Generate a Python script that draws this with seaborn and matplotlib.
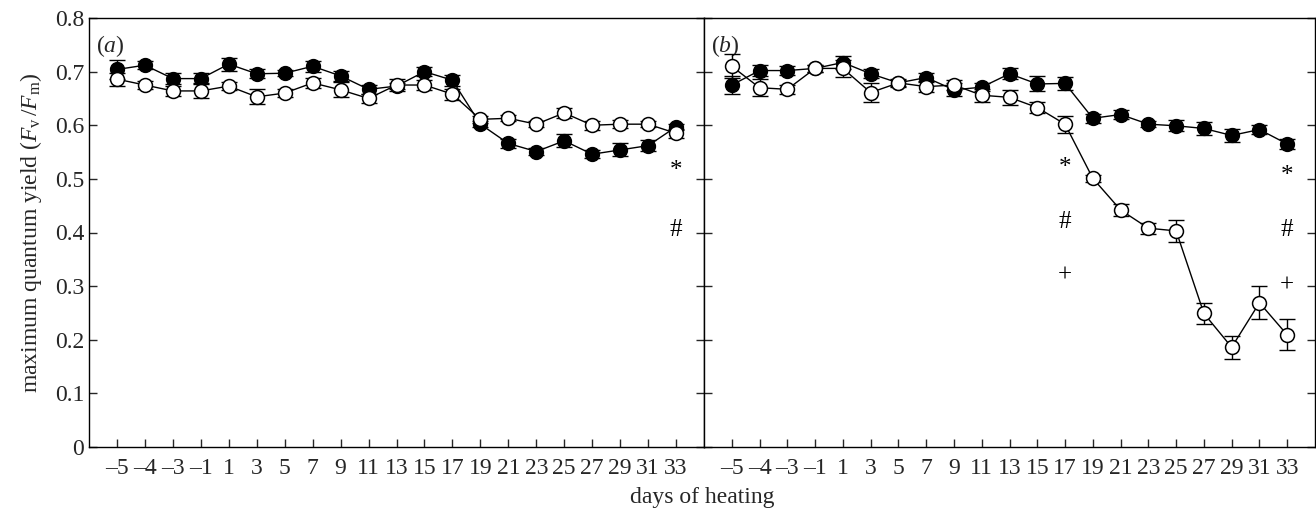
import numpy as np
import pandas as pd
import matplotlib
matplotlib.use("Agg")
import matplotlib.pyplot as plt
import seaborn as sns

# ---- data ----
days = ["–5", "–4", "–3", "–1", "1", "3", "5", "7", "9", "11", "13", "15", "17",
        "19", "21", "23", "25", "27", "29", "31", "33"]

a_filled = [0.704, 0.712, 0.687, 0.687, 0.714, 0.696, 0.697, 0.710, 0.692, 0.667, 0.673,
            0.700, 0.684, 0.602, 0.566, 0.551, 0.571, 0.546, 0.554, 0.562, 0.597]
a_filled_err = [0.018, 0.008, 0.010, 0.010, 0.012, 0.008, 0.006, 0.010, 0.010, 0.008, 0.006,
                0.008, 0.010, 0.006, 0.008, 0.006, 0.012, 0.008, 0.012, 0.010, 0.006]
a_open = [0.686, 0.675, 0.664, 0.664, 0.673, 0.653, 0.660, 0.679, 0.666, 0.650, 0.675,
          0.675, 0.658, 0.611, 0.613, 0.602, 0.623, 0.600, 0.602, 0.602, 0.585]
a_open_err = [0.012, 0.008, 0.010, 0.014, 0.008, 0.014, 0.008, 0.010, 0.014, 0.008, 0.012,
              0.010, 0.010, 0.006, 0.006, 0.006, 0.010, 0.008, 0.008, 0.006, 0.008]

b_filled = [0.675, 0.702, 0.702, 0.706, 0.717, 0.696, 0.679, 0.689, 0.666, 0.671, 0.696,
            0.677, 0.678, 0.613, 0.620, 0.602, 0.599, 0.594, 0.581, 0.592, 0.565]
b_filled_err = [0.016, 0.010, 0.008, 0.006, 0.012, 0.008, 0.006, 0.008, 0.012, 0.008, 0.010,
                0.014, 0.012, 0.008, 0.008, 0.006, 0.010, 0.012, 0.012, 0.008, 0.010]
b_open = [0.710, 0.670, 0.667, 0.706, 0.706, 0.661, 0.679, 0.672, 0.675, 0.656, 0.652,
          0.633, 0.602, 0.501, 0.442, 0.408, 0.403, 0.249, 0.186, 0.269, 0.209]
b_open_err = [0.022, 0.016, 0.008, 0.006, 0.016, 0.018, 0.008, 0.010, 0.010, 0.012, 0.014,
              0.010, 0.016, 0.006, 0.012, 0.010, 0.020, 0.020, 0.021, 0.031, 0.029]

# significance marks: (day, value, symbol)
a_marks = [("33", 0.515, "*"), ("33", 0.405, "#")]
b_marks = [("17", 0.520, "*"), ("17", 0.420, "#"), ("17", 0.320, "+"),
           ("33", 0.505, "*"), ("33", 0.405, "#"), ("33", 0.302, "+")]

yticks = [0, 0.1, 0.2, 0.3, 0.4, 0.5, 0.6, 0.7, 0.8]
ytick_labels = ["0", "0.1", "0.2", "0.3", "0.4", "0.5", "0.6", "0.7", "0.8"]

# ---- style ----
sns.set_theme(style="ticks")
plt.rcParams["font.family"] = ["Liberation Serif", "DejaVu Serif"]
plt.rcParams["mathtext.fontset"] = "custom"
plt.rcParams["mathtext.rm"] = "Liberation Serif"
plt.rcParams["mathtext.it"] = "Liberation Serif:italic"
plt.rcParams["axes.edgecolor"] = "black"
plt.rcParams["axes.linewidth"] = 1.0
FS = 17

fig = plt.figure(figsize=(13.16, 5.15), dpi=100)
bottom = 1 - 447 / 515
height = (447 - 18) / 515
ax_a = fig.add_axes([89 / 1316, bottom, (704 - 89) / 1316, height])
ax_b = fig.add_axes([704 / 1316, bottom, (1315 - 704) / 1316, height])

idx = np.arange(len(days))


def draw(ax, filled, ferr, opened, oerr, marks, label):
    df = pd.DataFrame({"i": idx, "filled": filled, "open": opened})
    ax.errorbar(idx, filled, yerr=ferr, fmt="none", ecolor="black", elinewidth=1.0,
                capsize=6, capthick=1.0, zorder=2)
    sns.lineplot(data=df, x="i", y="filled", ax=ax, color="black", linewidth=1.0,
                 marker="o", markersize=10, markerfacecolor="black",
                 markeredgecolor="black", markeredgewidth=1.0, zorder=3)
    ax.errorbar(idx, opened, yerr=oerr, fmt="none", ecolor="black", elinewidth=1.0,
                capsize=6, capthick=1.0, zorder=4)
    sns.lineplot(data=df, x="i", y="open", ax=ax, color="black", linewidth=1.0,
                 marker="o", markersize=10, markerfacecolor="white",
                 markeredgecolor="black", markeredgewidth=1.1, zorder=5)
    for d, v, s in marks:
        ax.text(days.index(d), v, s, ha="center", va="center", fontsize=FS + 1, color="black")
    ax.text(0.012, 0.965, label, transform=ax.transAxes, ha="left", va="top", fontsize=FS)
    ax.set_xlim(-1, len(days))
    ax.set_ylim(0, 0.8)
    ax.set_xticks(idx)
    ax.set_xticklabels(days, fontsize=FS)
    ax.set_yticks(yticks)
    ax.set_xlabel("")
    ax.set_ylabel("")
    ax.tick_params(axis="x", direction="in", length=6, width=1.0, pad=8, bottom=True, top=False)
    ax.tick_params(axis="y", direction="in", length=6, width=1.0, left=True, right=True)
    for sp in ax.spines.values():
        sp.set_visible(True)
        sp.set_color("black")
        sp.set_linewidth(1.0)


draw(ax_a, a_filled, a_filled_err, a_open, a_open_err, a_marks, "($a$)")
draw(ax_b, b_filled, b_filled_err, b_open, b_open_err, b_marks, "($b$)")

ax_a.set_yticklabels(ytick_labels, fontsize=FS)
ax_b.set_yticklabels([])
ax_a.set_ylabel(r"maximum quantum yield ($F_{\rm v}\,/F_{\rm m}$)", fontsize=FS, labelpad=8)

fig.text((89 + 1315) / 2 / 1316, 1 - 498 / 515, "days of heating", ha="center",
         va="center", fontsize=FS)

fig.savefig("out.png", dpi=100, facecolor="white")
